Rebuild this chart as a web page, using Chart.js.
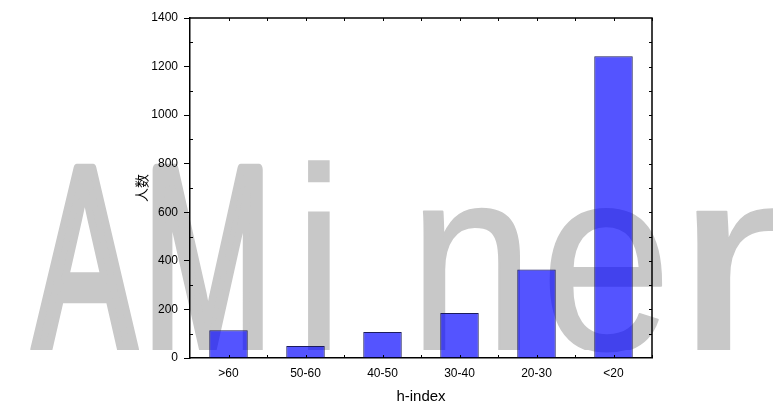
<!DOCTYPE html>
<html>
<head>
<meta charset="utf-8">
<script src="https://cdn.jsdelivr.net/npm/chart.js@4"></script>
<style>
  body { margin: 0; background: #fff; }
  canvas { display: block; }
</style>
</head>
<body>
<canvas id="hChart" width="773" height="406"></canvas>
<script>
// data
const categories = ['>60', '50-60', '40-50', '30-40', '20-30', '<20'];
const counts = [114, 49, 107, 185, 364, 1242];
const yTicks = [0, 200, 400, 600, 800, 1000, 1200, 1400];

const FONT = "'Liberation Sans', Arial, 'Noto Sans CJK SC', sans-serif";

// grey watermark behind the chart, glyph by glyph
const watermark = {
    id: 'watermark',
    beforeDraw(chart) {
        const ctx = chart.ctx;
        ctx.save();
        ctx.fillStyle = '#fff';
        ctx.fillRect(0, 0, chart.width, chart.height);
        ctx.fillStyle = 'rgb(200,200,200)';
        ctx.strokeStyle = 'rgb(200,200,200)';
        ctx.lineJoin = 'round';
        ctx.font = '262px ' + FONT;
        ctx.textBaseline = 'alphabetic';
        // [glyph, left, right, extra stroke]
        const glyphs = [
            ['A', 30, 140, 7], ['M', 152, 265, 7], ['i', 307, 330, 0],
            ['n', 422, 522, 2], ['e', 547, 663, 2], ['r', 695, 790, 2]
        ];
        glyphs.forEach(([ch, x0, x1, sw]) => {
            const m = ctx.measureText(ch);
            const w = m.actualBoundingBoxLeft + m.actualBoundingBoxRight;
            const sx = (x1 - x0 - sw) / w;
            ctx.save();
            ctx.translate(x0 + sw / 2, 350);
            ctx.scale(sx, 1);
            ctx.fillText(ch, m.actualBoundingBoxLeft, 0);
            if (sw) {
                ctx.lineWidth = sw / sx;
                ctx.beginPath();
                ctx.rect(-50, -300, w + 100, 300);
                ctx.clip();
                ctx.strokeText(ch, m.actualBoundingBoxLeft, 0);
            }
            ctx.restore();
        });
        ctx.restore();
    }
};

// top/right frame and the small inward ticks
const frame = {
    id: 'frame',
    afterDraw(chart) {
        const { ctx, chartArea: a, scales: { x, y } } = chart;
        ctx.save();
        ctx.strokeStyle = '#000';
        ctx.lineWidth = 1.5;
        ctx.beginPath();
        ctx.moveTo(a.left, a.top);
        ctx.lineTo(a.right, a.top);
        ctx.lineTo(a.right, a.bottom);
        ctx.stroke();
        ctx.lineWidth = 1;
        ctx.beginPath();
        for (let v = 100; v < 1400; v += 100) {
            const py = Math.round(y.getPixelForValue(v)) + 0.5;
            if (v % 200) { ctx.moveTo(a.left, py); ctx.lineTo(a.left + 3, py); }
            ctx.moveTo(a.right, py); ctx.lineTo(a.right - 3, py);
        }
        for (let i = 0; i < categories.length; i++) {
            const c = Math.round(x.getPixelForValue(i)) + 0.5;
            const b = Math.round(x.getPixelForValue(i + 0.5)) + 0.5;
            [c, b].forEach(px => {
                ctx.moveTo(px, a.top); ctx.lineTo(px, a.top + 3);
                ctx.moveTo(px, a.bottom); ctx.lineTo(px, a.bottom - 3);
            });
        }
        ctx.stroke();
        ctx.restore();
    }
};

new Chart(document.getElementById('hChart').getContext('2d'), {
    type: 'bar',
    data: {
        labels: categories,
        datasets: [{
            data: counts,
            backgroundColor: 'rgba(0,0,255,0.67)',
            borderColor: '#1c1c5c',
            borderWidth: 1,
            barPercentage: 0.5,
            categoryPercentage: 1
        }]
    },
    options: {
        responsive: false,
        animation: false,
        layout: { padding: { left: 126, right: 121, top: 18, bottom: 0 } },
        plugins: { legend: { display: false }, tooltip: { enabled: false } },
        scales: {
            x: {
                grid: { display: false },
                border: { display: true, color: '#000', width: 1.5 },
                ticks: { color: '#000', padding: 0, font: { family: FONT, size: 12 } },
                title: { display: true, text: 'h-index', color: '#000', padding: 0, font: { family: FONT, size: 15 } },
                afterFit: s => { s.height = 48; }
            },
            y: {
                min: 0,
                max: 1400,
                afterBuildTicks: s => { s.ticks = yTicks.map(v => ({ value: v })); },
                grid: { drawOnChartArea: false, drawTicks: true, tickLength: 6, color: '#000', lineWidth: 1 },
                border: { display: true, color: '#000', width: 1.5 },
                ticks: { color: '#000', padding: 6, font: { family: FONT, size: 12 }, callback: v => String(v) },
                title: { display: true, text: '人数', color: '#000', padding: { top: 9, bottom: 0 }, font: { family: FONT, size: 14 } },
                afterFit: s => { s.width = 64; }
            }
        }
    },
    plugins: [watermark, frame]
});
</script>
</body>
</html>
